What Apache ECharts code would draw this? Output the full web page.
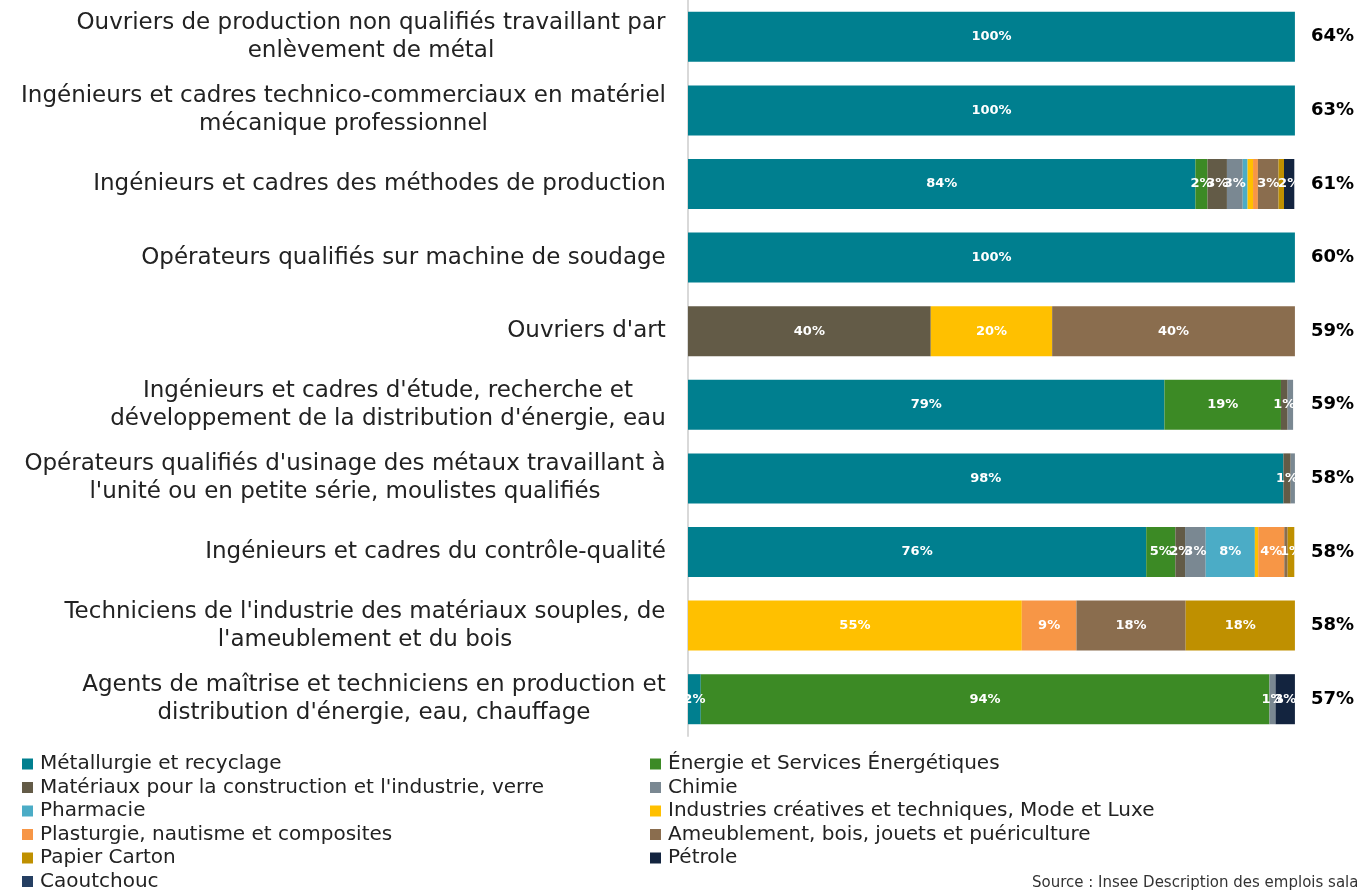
<!DOCTYPE html>
<html>
<head>
<meta charset="utf-8">
<script src="https://cdn.jsdelivr.net/npm/echarts@6/dist/echarts.min.js"></script>
<style>
  html, body { margin: 0; padding: 0; background: #fff; }
  #chart { width: 1357px; height: 890px; }
</style>
</head>
<body>
<div id="chart"></div>
<script>
// métiers (lignes du graphique, de haut en bas)
const categories = [
  "Ouvriers de production non qualifiés travaillant par\nenlèvement de métal",
  "Ingénieurs et cadres technico-commerciaux en matériel\nmécanique professionnel",
  "Ingénieurs et cadres des méthodes de production",
  "Opérateurs qualifiés sur machine de soudage",
  "Ouvriers d'art",
  "Ingénieurs et cadres d'étude, recherche et\ndéveloppement de la distribution d'énergie, eau",
  "Opérateurs qualifiés d'usinage des métaux travaillant à\nl'unité ou en petite série, moulistes qualifiés",
  "Ingénieurs et cadres du contrôle-qualité",
  "Techniciens de l'industrie des matériaux souples, de\nl'ameublement et du bois",
  "Agents de maîtrise et techniciens en production et\ndistribution d'énergie, eau, chauffage"
]
// valeur affichée à droite de chaque barre
const rightLabels = ['64%', '63%', '61%', '60%', '59%', '59%', '58%', '58%', '58%', '57%']

const sectorNames = [
  'Métallurgie et recyclage',
  'Énergie et Services Énergétiques',
  "Matériaux pour la construction et l'industrie, verre",
  'Chimie',
  'Pharmacie',
  'Industries créatives et techniques, Mode et Luxe',
  'Plasturgie, nautisme et composites',
  'Ameublement, bois, jouets et puériculture',
  'Papier Carton',
  'Pétrole',
  'Caoutchouc'
]
const sectorColors = ['#007f8f', '#3c8a25', '#635b47', '#7a8892', '#4bacc6', '#ffc000', '#f79646', '#8a6d4e', '#bf9000', '#13243f', '#253f62']

// parts (%) par secteur, une valeur par métier
const metallurgie = [100, 100, 83.6, 100, 0, 78.5, 98.1, 75.5, 0, 2.1]
const energie     = [0, 0, 2, 0, 0, 19.2, 0, 4.8, 0, 93.7]
const materiaux   = [0, 0, 3.2, 0, 40, 1.1, 1.2, 1.6, 0, 0]
const chimie      = [0, 0, 2.6, 0, 0, 0.9, 0.7, 3.4, 0, 1.0]
const pharmacie   = [0, 0, 0.8, 0, 0, 0, 0, 8.1, 0, 0]
const industries  = [0, 0, 0.9, 0, 20, 0, 0, 0.55, 55, 0]
const plasturgie  = [0, 0, 0.8, 0, 0, 0, 0, 4.3, 9, 0]
const ameublement = [0, 0, 3.4, 0, 40, 0, 0, 0.55, 18, 0]
const papier      = [0, 0, 0.9, 0, 0, 0, 0, 1.1, 18, 0]
const petrole     = [0, 0, 1.7, 0, 0, 0, 0, 0, 0, 3.2]
const caoutchouc  = [0, 0, 0, 0, 0, 0, 0, 0, 0, 0]

const sectorData = [metallurgie, energie, materiaux, chimie, pharmacie, industries, plasturgie, ameublement, papier, petrole, caoutchouc]

const FONT = 'DejaVu Sans'
const LABEL_SIZE = 23

// les libellés à gauche sont centrés ligne par ligne : on mesure la ligne la plus longue
const ctx = document.createElement('canvas').getContext('2d')
ctx.font = LABEL_SIZE + 'px "' + FONT + '"'
const rich = {}
categories.forEach((c, i) => {
  const w = Math.max(...c.split('\n').map(l => ctx.measureText(l).width))
  rich['c' + i] = { width: Math.ceil(w), align: 'center', fontSize: LABEL_SIZE, lineHeight: 28, fontFamily: FONT, color: '#222' }
})

const series = sectorNames.map((name, i) => ({
  name: name,
  type: 'bar',
  stack: 'total',
  barWidth: '68%',
  data: sectorData[i],
  itemStyle: { color: sectorColors[i] },
  label: {
    show: true,
    color: '#fff',
    fontWeight: 'bold',
    fontSize: 13,
    fontFamily: FONT,
    formatter: p => p.value >= 1 ? Math.round(p.value) + '%' : ''
  }
}))

const legendText = { fontSize: 20, fontFamily: FONT, color: '#222', padding: [0, 0, 0, 2] }

const chart = echarts.init(document.getElementById('chart'))

chart.setOption({
  animation: false,
  grid: { left: 688, right: 61, top: 0, height: 736 },
  xAxis: { type: 'value', min: 0, max: 100, show: false },
  yAxis: [
    {
      type: 'category',
      data: categories,
      inverse: true,
      axisTick: { show: false },
      axisLine: { show: true, lineStyle: { color: '#d9d9d9', width: 2 } },
      axisLabel: {
        margin: 22,
        align: 'right',
        formatter: (v, i) => v.split('\n').map(l => '{c' + i + '|' + l + '}').join('\n'),
        rich: rich
      }
    },
    {
      type: 'category',
      data: rightLabels,
      inverse: true,
      position: 'right',
      axisTick: { show: false },
      axisLine: { show: false },
      axisLabel: { margin: 16, fontSize: 18, fontWeight: 'bold', color: '#000', fontFamily: FONT }
    }
  ],
  legend: [
    {
      orient: 'vertical',
      left: 22, top: 754, height: 200, padding: 0,
      itemWidth: 11, itemHeight: 11, itemGap: 3.5,
      icon: 'rect',
      data: sectorNames.filter((n, i) => i % 2 === 0),
      textStyle: legendText
    },
    {
      orient: 'vertical',
      left: 650, top: 754, height: 200, padding: 0,
      itemWidth: 11, itemHeight: 11, itemGap: 3.5,
      icon: 'rect',
      data: sectorNames.filter((n, i) => i % 2 === 1),
      textStyle: legendText
    }
  ],
  graphic: [
    {
      type: 'text',
      left: 1032, top: 876,
      style: { text: 'Source : Insee Description des emplois salariés', fontSize: 15, fontFamily: FONT, fill: '#333' }
    }
  ],
  series: series
})
</script>
</body>
</html>
